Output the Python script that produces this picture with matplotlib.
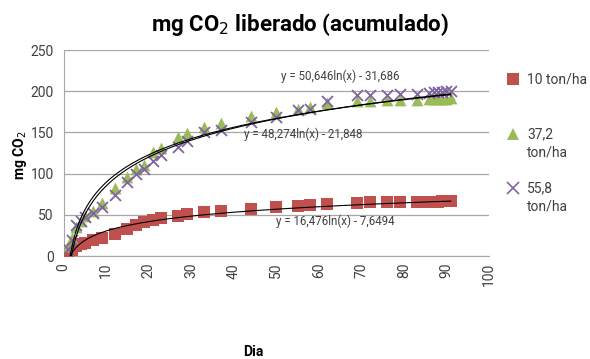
import numpy as np
import matplotlib
matplotlib.use("Agg")
import matplotlib.pyplot as plt
from matplotlib.lines import Line2D

plt.rcParams['font.family'] = ['Roboto', 'DejaVu Sans']

days = [1, 2, 3, 4, 5, 7, 9, 12, 15, 17, 19, 21, 23, 27, 29, 33, 37, 44, 50,
        55, 58, 62, 69, 72, 76, 79, 83, 86, 87, 88, 89, 90, 91]
s10 = [2, 7, 12, 14, 16, 19, 22, 27, 33, 38, 41, 44, 46, 49, 51, 53, 55, 57, 59,
       61, 62, 63, 64, 65, 65, 65, 66, 66, 66, 66, 67, 67, 67]
s37 = [12, 22, 35, 42, 48, 55, 64, 82, 96, 106, 110, 126, 131, 145, 149, 157, 162, 170, 175,
       179, 181, 186, 188, 188, 189, 189, 189, 190, 190, 191, 191, 191, 192]
s55 = [8, 20, 38, 43, 47, 52, 60, 74, 90, 100, 105, 115, 122, 132, 139, 150, 153, 163, 169,
       177, 179, 188, 195, 195, 195, 196, 197, 198, 199, 199, 199, 200, 200]
labels = ["10 ton/ha", "37,2\nton/ha", "55,8\nton/ha"]
# trendline coefficients (a*ln(x) + b) as given on the chart
coef10 = (16.476, -7.6494)
coef37 = (48.274, -21.848)
coef55 = (50.646, -31.686)
eq_text = ["y = 16,476ln(x) - 7,6494", "y = 48,274ln(x) - 21,848", "y = 50,646ln(x) - 31,686"]

C_RED, C_GREEN, C_PURPLE = '#C0504D', '#9BBB59', '#8064A2'
tc = '#404040'

W, H = 590, 359
fig = plt.figure(figsize=(W/100, H/100), dpi=100)
ax = fig.add_axes([63.5/W, 1-256/H, (489-63.5)/W, (256-50)/H])

ax.scatter(days, s10, marker='s', s=72, color=C_RED, zorder=3, linewidths=0)
ax.scatter(days, s37, marker='^', s=72, color=C_GREEN, zorder=3, linewidths=0)
ax.scatter(days, s55, marker='x', s=62, color=C_PURPLE, zorder=4, linewidths=1.3)

xx = np.linspace(min(days), max(days), 400)
for (a, b) in (coef10, coef37, coef55):
    ax.plot(xx, a*np.log(xx) + b, color='black', lw=0.8, zorder=5)

ax.set_xlim(0, 100)
ax.set_ylim(0, 250)
ax.set_xticks(range(0, 101, 10))
ax.set_yticks(range(0, 251, 50))
ax.tick_params(axis='x', labelrotation=90, length=0, labelsize=10, colors=tc, pad=5)
ax.tick_params(axis='y', length=0, labelsize=10, colors=tc, pad=7)
ax.yaxis.grid(True, color='#A6A6A6', lw=0.9)
ax.set_axisbelow(True)
for sp in ('top', 'right'):
    ax.spines[sp].set_visible(False)
ax.spines['left'].set_color('#A6A6A6')
ax.spines['bottom'].set_color('#A6A6A6')

fig.text(340/W, 1-76/H, eq_text[2], ha='center', va='center', fontsize=8.3, color=tc)
fig.text(303/W, 1-134/H, eq_text[1], ha='center', va='center', fontsize=8.3, color=tc)
fig.text(335/W, 1-221/H, eq_text[0], ha='center', va='center', fontsize=8.3, color=tc)

fig.text(300/W, 1-24/H, "mg CO$_2$ liberado (acumulado)", ha='center', va='center',
         fontsize=16, fontweight='bold', color='black')
fig.text(20/W, 1-155/H, "mg CO$_2$", ha='center', va='center', rotation=90,
         fontsize=10, fontweight='bold', color='black')
fig.text(253/W, 1-352/H, "Dia", ha='center', va='center', fontsize=10, fontweight='bold', color='black')

# legend, marker aligned with first line of each label
leg_y = [79, 134, 188]
leg_style = [dict(marker='s', markersize=8, color=C_RED, mew=0),
             dict(marker='^', markersize=9, color=C_GREEN, mew=0),
             dict(marker='x', markersize=8, color=C_PURPLE, mew=1.2)]
for y, lab, st in zip(leg_y, labels, leg_style):
    fig.add_artist(Line2D([513/W], [1-y/H], linestyle='none', transform=fig.transFigure, **st))
    fig.text(527/W, 1-(y-7)/H, lab, ha='left', va='top', fontsize=10, color=tc, linespacing=1.45)

fig.savefig("out.png", dpi=100)
